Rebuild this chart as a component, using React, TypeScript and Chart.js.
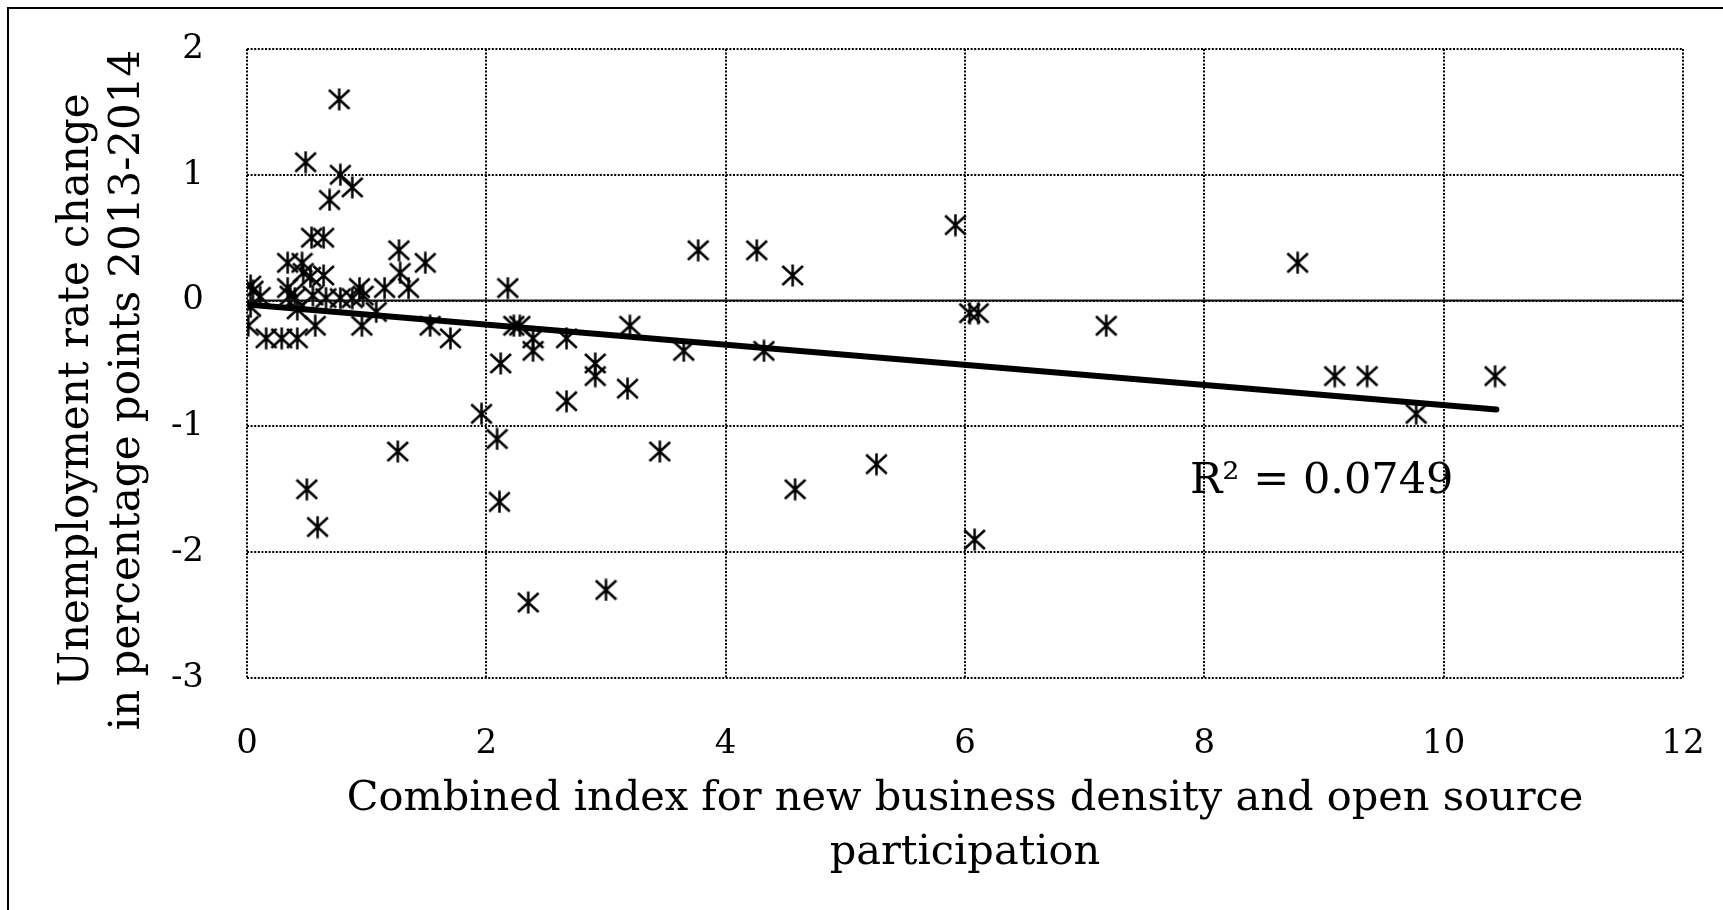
import React, { useEffect, useRef } from "react";
import { Chart, registerables } from "chart.js";

Chart.register(...registerables);

// ---- data ----
const xValues: number[] = [
  0.77, 0.49, 0.78, 0.88, 0.69, 0.54, 0.64, 0.34, 0.46, 1.27, 1.49, 0.47, 0.53, 0.64, 1.28, 1.35, 1.15, 0.94,
  0.03, 0.05, 0.34, 0.11, 0.36, 0.40, 0.55, 0.66, 0.78, 0.88, 0.97, 0.03, 0.42, 1.08, 0.01, 0.16, 0.29, 0.42,
  0.57, 0.96, 1.53, 1.70, 0.50, 0.59, 1.26,
  2.18, 2.23, 2.28, 2.39, 2.39, 2.67, 3.20, 3.65, 2.12, 2.91, 2.91, 2.67, 3.18, 1.96, 2.09, 3.45, 2.11, 2.35,
  3.00, 3.77, 4.26, 4.56, 5.92, 6.04, 6.11, 4.32, 4.58, 5.26, 6.08, 7.18, 8.78, 9.09, 9.36, 9.77, 10.43,
];
const yValues: number[] = [
  1.6, 1.1, 1.0, 0.9, 0.8, 0.5, 0.5, 0.3, 0.3, 0.4, 0.3, 0.22, 0.19, 0.2, 0.22, 0.1, 0.1, 0.1,
  0.12, 0.08, 0.1, 0.03, 0.04, 0.02, 0.04, 0.02, 0.02, 0.02, 0.04, -0.05, -0.07, -0.09, -0.2, -0.3, -0.3, -0.3,
  -0.2, -0.2, -0.2, -0.3, -1.5, -1.8, -1.2,
  0.1, -0.2, -0.2, -0.3, -0.4, -0.3, -0.2, -0.4, -0.5, -0.5, -0.6, -0.8, -0.7, -0.9, -1.1, -1.2, -1.6, -2.4,
  -2.3, 0.4, 0.4, 0.2, 0.6, -0.1, -0.1, -0.4, -1.5, -1.3, -1.9, -0.2, 0.3, -0.6, -0.6, -0.9, -0.6,
];
const trendX: number[] = [0, 10.44];
const trendY: number[] = [-0.03, -0.865];
const zeroLineX: number[] = [0, 12];
const zeroLineY: number[] = [0, 0];
const xTicks: number[] = [0, 2, 4, 6, 8, 10, 12];
const yTicks: number[] = [-3, -2, -1, 0, 1, 2];
const xTitle: string[] = ["Combined index for new business density and open source", "participation"];
const yTitle: string[] = ["Unemployment rate change", "in percentage points 2013-2014"];
const rSquaredText = "R\u00B2 = 0.0749";
const rSquaredAnchor: number[] = [7.88, -1.53];

const FONT = "'DejaVu Serif', serif";

function makeMarker(): HTMLCanvasElement {
  const c = document.createElement("canvas");
  c.width = 23;
  c.height = 23;
  const g = c.getContext("2d")!;
  g.strokeStyle = "#000";
  g.lineWidth = 2.5;
  g.beginPath();
  g.moveTo(1.2, 2);
  g.lineTo(21.8, 21);
  g.moveTo(21.8, 2);
  g.lineTo(1.2, 21);
  g.moveTo(11.5, 0.5);
  g.lineTo(11.5, 22.5);
  g.stroke();
  return c;
}

export default function App() {
  const ref = useRef<HTMLCanvasElement | null>(null);

  useEffect(() => {
    if (!ref.current) return;
    const marker = makeMarker();
    const points = xValues.map((x, i) => ({ x, y: yValues[i] }));
    const trend = trendX.map((x, i) => ({ x, y: trendY[i] }));
    const zero = zeroLineX.map((x, i) => ({ x, y: zeroLineY[i] }));

    const annotations = {
      id: "annotations",
      afterDatasetsDraw(chart: any) {
        const ctx = chart.ctx;
        const xs = chart.scales.x;
        const ys = chart.scales.y;
        ctx.save();
        ctx.fillStyle = "#000";
        ctx.font = `43px ${FONT}`;
        ctx.textAlign = "left";
        ctx.textBaseline = "alphabetic";
        ctx.fillText(rSquaredText, xs.getPixelForValue(rSquaredAnchor[0]), ys.getPixelForValue(rSquaredAnchor[1]));
        ctx.restore();

        // y axis title (two lines, rotated)
        ctx.save();
        ctx.fillStyle = "#000";
        ctx.font = `42px ${FONT}`;
        ctx.textAlign = "center";
        ctx.textBaseline = "middle";
        const cy = 390;
        const lineX = [77, 128];
        yTitle.forEach((t, i) => {
          ctx.save();
          ctx.translate(lineX[i], cy);
          ctx.rotate(-Math.PI / 2);
          ctx.fillText(t, 0, 0);
          ctx.restore();
        });
        ctx.restore();
      },
    };

    const zeroPad = (s: any) => {
      s.paddingLeft = 0;
      s.paddingRight = 0;
      s.paddingTop = 0;
      s.paddingBottom = 0;
    };

    const chart = new Chart(ref.current, {
      type: "scatter",
      data: {
        datasets: [
          {
            data: trend,
            showLine: true,
            borderColor: "#000",
            borderWidth: 6,
            borderCapStyle: "round",
            pointRadius: 0,
          } as any,
          {
            data: zero,
            showLine: true,
            borderColor: "#111",
            borderWidth: 2,
            pointRadius: 0,
          } as any,
          {
            data: points,
            pointStyle: marker,
            pointRadius: 11,
            backgroundColor: "#000",
            borderColor: "#000",
          } as any,
        ],
      },
      options: {
        animation: false,
        responsive: false,
        devicePixelRatio: window.devicePixelRatio || 1,
        layout: { padding: { left: 0, top: 49, right: 40, bottom: 0 } },
        plugins: { legend: { display: false }, tooltip: { enabled: false } },
        scales: {
          x: {
            type: "linear",
            min: 0,
            max: 12,
            afterBuildTicks: (s: any) => {
              s.ticks = xTicks.map((v) => ({ value: v }));
            },
            afterFit: (s: any) => {
              s.height = 232;
              zeroPad(s);
            },
            ticks: {
              padding: 46,
              color: "#000",
              font: { family: FONT, size: 34 },
              maxRotation: 0,
            },
            grid: { color: "#000", lineWidth: 2, drawTicks: false },
            border: { display: false, dash: [2, 1.6] },
            title: {
              display: true,
              text: xTitle,
              color: "#000",
              font: { family: FONT, size: 41.5, lineHeight: 1.32 },
              padding: { top: 0, bottom: 29 },
            },
          },
          y: {
            type: "linear",
            min: -3,
            max: 2,
            afterBuildTicks: (s: any) => {
              s.ticks = yTicks.map((v) => ({ value: v }));
            },
            afterFit: (s: any) => {
              s.width = 247;
              zeroPad(s);
            },
            ticks: {
              padding: 43,
              color: "#000",
              font: { family: FONT, size: 34 },
            },
            grid: { color: "#000", lineWidth: 2, drawTicks: false },
            border: { display: false, dash: [2, 1.6] },
            title: { display: false },
          },
        },
      },
      plugins: [annotations],
    } as any);

    return () => chart.destroy();
  }, []);

  return (
    <div style={{ position: "fixed", left: 0, top: 0, width: 1723, height: 910, overflow: "hidden", background: "#fff" }}>
      <div
        style={{
          position: "absolute",
          left: 7,
          top: 7,
          width: 1800,
          height: 1000,
          border: "2px solid #000",
          boxSizing: "border-box",
        }}
      />
      <canvas
        ref={ref}
        width={1723}
        height={910}
        style={{ position: "absolute", left: 0, top: 0, width: 1723, height: 910 }}
      />
    </div>
  );
}
